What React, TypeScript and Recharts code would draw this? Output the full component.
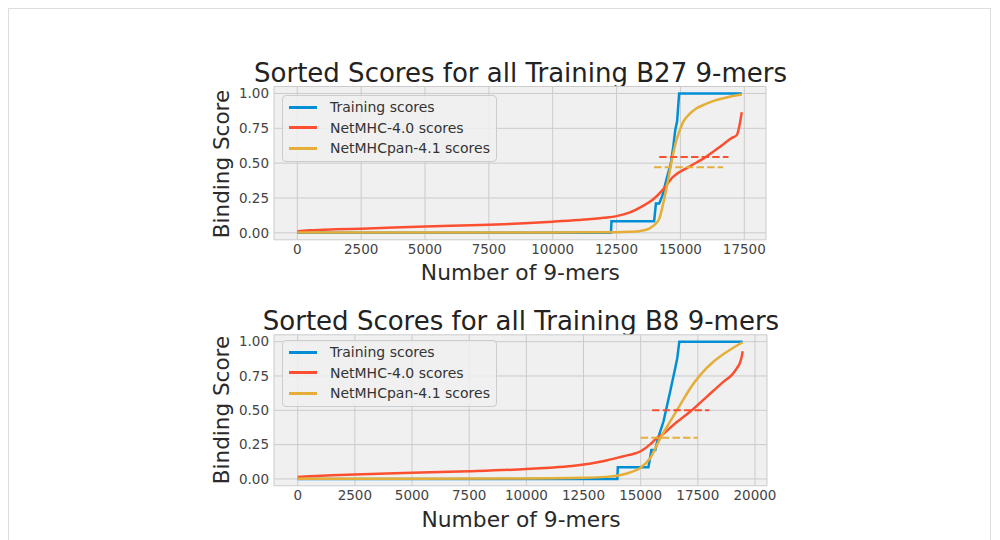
import React from 'react';
import { LineChart, Line, XAxis, YAxis, CartesianGrid, Legend } from 'recharts';

const FONT = '"DejaVu Sans", "Liberation Sans", sans-serif';

const SERIES_NAMES = ['Training scores', 'NetMHC-4.0 scores', 'NetMHCpan-4.1 scores'];
const SERIES_COLORS = ['#008fd5', '#fc4f30', '#e5ae38'];
const Y_TICKS = [0, 0.25, 0.5, 0.75, 1.0];
const B27_X_TICKS = [0, 2500, 5000, 7500, 10000, 12500, 15000, 17500];
const B8_X_TICKS = [0, 2500, 5000, 7500, 10000, 12500, 15000, 17500, 20000];

const TITLE_B27 = 'Sorted Scores for all Training B27 9-mers';
const TITLE_B8 = 'Sorted Scores for all Training B8 9-mers';
const X_LABEL = 'Number of 9-mers';
const Y_LABEL = 'Binding Score';

// ---- B27 ----
const b27TrainX = [0, 12280, 12300, 13970, 14040, 14170, 14300, 14450, 14625, 14720, 14800, 14870, 14950, 17400];
const b27TrainY = [0, 0, 0.084, 0.084, 0.21, 0.21, 0.27, 0.38, 0.5, 0.62, 0.74, 0.8, 1.0, 1.0];

const b27NetMhcX = [0, 500, 1500, 2500, 5000, 7500, 8700, 10000, 11000, 12000, 12500, 13000, 13500, 13900, 14300, 14700, 15300, 16000, 16600, 17000, 17200, 17300, 17370, 17400];
const b27NetMhcY = [0.012, 0.018, 0.025, 0.03, 0.045, 0.058, 0.067, 0.08, 0.092, 0.108, 0.12, 0.145, 0.19, 0.235, 0.306, 0.4, 0.47, 0.545, 0.625, 0.68, 0.7, 0.76, 0.83, 0.865];

const b27PanX = [0, 5000, 10000, 12500, 13000, 13400, 13780, 14040, 14170, 14300, 14490, 14690, 14820, 14950, 15120, 15340, 15600, 16000, 16300, 16640, 17000, 17400];
const b27PanY = [0.002, 0.002, 0.003, 0.004, 0.007, 0.012, 0.03, 0.067, 0.1, 0.19, 0.354, 0.545, 0.65, 0.725, 0.8, 0.85, 0.89, 0.925, 0.947, 0.964, 0.98, 0.993];

const b27NetMhcCutX = [14170, 16880];
const b27NetMhcCutY = [0.545, 0.545];
const b27PanCutX = [13970, 16670];
const b27PanCutY = [0.47, 0.47];

// ---- B8 ----
const b8TrainX = [0, 13980, 14000, 15340, 15470, 15640, 15740, 16000, 16290, 16510, 16600, 16690, 19460];
const b8TrainY = [0, 0, 0.085, 0.085, 0.21, 0.21, 0.286, 0.42, 0.637, 0.807, 0.88, 1.0, 1.0];

const b8NetMhcX = [0, 500, 1500, 2500, 5000, 7500, 10000, 11000, 12000, 12500, 13000, 13500, 14000, 14500, 14980, 15400, 15710, 16000, 16440, 17170, 17900, 18630, 19000, 19210, 19360, 19430, 19460];
const b8NetMhcY = [0.015, 0.02, 0.027, 0.033, 0.045, 0.056, 0.072, 0.082, 0.095, 0.105, 0.118, 0.135, 0.155, 0.175, 0.2, 0.25, 0.298, 0.33, 0.395, 0.491, 0.6, 0.709, 0.76, 0.807, 0.855, 0.9, 0.93];

const b8PanX = [0, 5000, 10000, 12500, 13500, 14000, 14500, 14980, 15420, 15860, 16290, 16730, 17170, 17610, 18190, 18780, 19460];
const b8PanY = [0.002, 0.002, 0.004, 0.008, 0.015, 0.025, 0.045, 0.08, 0.153, 0.298, 0.419, 0.54, 0.661, 0.758, 0.855, 0.927, 0.996];

const b8NetMhcCutX = [15500, 18000];
const b8NetMhcCutY = [0.5, 0.5];
const b8PanCutX = [15000, 17500];
const b8PanCutY = [0.3, 0.3];

const pts = (xs: number[], ys: number[]) => xs.map((x, i) => ({ x, y: ys[i] }));

const renderLegend = (props: any) => {
  const items = (props.payload || [])
    .filter((p: any) => SERIES_NAMES.includes(p.value))
    .sort((a: any, b: any) => SERIES_NAMES.indexOf(a.value) - SERIES_NAMES.indexOf(b.value));
  return (
    <div
      style={{
        width: 215,
        height: 67,
        boxSizing: 'border-box',
        background: 'rgba(240,240,240,0.85)',
        border: '1px solid #cccccc',
        borderRadius: 4,
        paddingTop: 1,
        fontFamily: FONT,
      }}
    >
      {items.map((it: any) => (
        <div key={it.value} style={{ display: 'flex', alignItems: 'center', height: 20.5 }}>
          <div style={{ marginLeft: 6, width: 28.7, height: 2.6, background: it.color }} />
          <span style={{ marginLeft: 12.6, fontSize: 14, color: '#333', lineHeight: '20.5px', whiteSpace: 'nowrap' }}>
            {it.value}
          </span>
        </div>
      ))}
    </div>
  );
};

type Pt = { x: number; y: number };
type PanelProps = {
  svgTop: number;
  marginTop: number;
  plotH: number;
  marginRight: number;
  xDomain: [number, number];
  xTicks: number[];
  title: string;
  titleTop: number;
  titleCx: number;
  xLabelTop: number;
  xLabelCx: number;
  yLabelCy: number;
  train: Pt[];
  netmhc: Pt[];
  pan: Pt[];
  netmhcCut: Pt[];
  panCut: Pt[];
};

function Panel(p: PanelProps) {
  const svgLeft = 200;
  const svgW = 580;
  const svgH = 200;
  const xAxisH = 30;
  const marginBottom = svgH - p.marginTop - p.plotH - xAxisH;
  return (
    <>
      <div
        style={{
          position: 'absolute',
          left: p.titleCx - 400 - 8,
          top: p.titleTop - 8,
          width: 800,
          textAlign: 'center',
          fontFamily: FONT,
          fontSize: 26,
          lineHeight: '26px',
          color: '#222',
          whiteSpace: 'nowrap',
        }}
      >
        {p.title}
      </div>
      <div
        style={{
          position: 'absolute',
          left: 221.5 - 100 - 8,
          top: p.yLabelCy - 11 - 8,
          width: 200,
          height: 22,
          textAlign: 'center',
          fontFamily: FONT,
          fontSize: 21.5,
          lineHeight: '22px',
          color: '#2a2a2a',
          whiteSpace: 'nowrap',
          transform: 'rotate(-90deg)',
        }}
      >
        {Y_LABEL}
      </div>
      <div
        style={{
          position: 'absolute',
          left: p.xLabelCx - 200 - 8,
          top: p.xLabelTop - 8,
          width: 400,
          textAlign: 'center',
          fontFamily: FONT,
          fontSize: 21.8,
          lineHeight: '21.8px',
          color: '#2a2a2a',
          whiteSpace: 'nowrap',
        }}
      >
        {X_LABEL}
      </div>
      <div style={{ position: 'absolute', left: svgLeft - 8, top: p.svgTop - 8 }}>
        <LineChart
          width={svgW}
          height={svgH}
          margin={{ top: p.marginTop, right: p.marginRight, bottom: marginBottom, left: 0 }}
        >
          <CartesianGrid stroke="#cbcbcb" strokeWidth={1} fill="#f0f0f0" />
          <XAxis
            dataKey="x"
            type="number"
            domain={p.xDomain}
            ticks={p.xTicks}
            allowDataOverflow
            axisLine={false}
            tickLine={false}
            tickSize={0}
            tickMargin={5}
            height={xAxisH}
            interval={0}
            tick={{ fontFamily: FONT, fontSize: 13.5, fill: '#444' }}
          />
          <YAxis
            type="number"
            domain={[-0.05, 1.05]}
            ticks={Y_TICKS}
            allowDataOverflow
            axisLine={false}
            tickLine={false}
            tickSize={0}
            tickMargin={5}
            width={74}
            interval={0}
            tickFormatter={(v: number) => v.toFixed(2)}
            tick={{ fontFamily: FONT, fontSize: 13.5, fill: '#444' }}
          />
          <Legend
            layout="vertical"
            align="center"
            verticalAlign="middle"
            content={renderLegend}
            wrapperStyle={{ left: 81.7, top: 15, width: 215, height: 67 }}
          />
          <Line data={p.train} dataKey="y" name={SERIES_NAMES[0]} stroke={SERIES_COLORS[0]} strokeWidth={2.5} dot={false} activeDot={false} type="linear" isAnimationActive={false} />
          <Line data={p.netmhc} dataKey="y" name={SERIES_NAMES[1]} stroke={SERIES_COLORS[1]} strokeWidth={2.5} dot={false} activeDot={false} type="monotone" isAnimationActive={false} />
          <Line data={p.pan} dataKey="y" name={SERIES_NAMES[2]} stroke={SERIES_COLORS[2]} strokeWidth={2.5} dot={false} activeDot={false} type="monotone" isAnimationActive={false} />
          <Line data={p.netmhcCut} dataKey="y" name="netmhc-cut" legendType="none" stroke={SERIES_COLORS[1]} strokeWidth={2} strokeDasharray="7.4 3.2" dot={false} activeDot={false} type="linear" isAnimationActive={false} />
          <Line data={p.panCut} dataKey="y" name="pan-cut" legendType="none" stroke={SERIES_COLORS[2]} strokeWidth={2} strokeDasharray="7.4 3.2" dot={false} activeDot={false} type="linear" isAnimationActive={false} />
        </LineChart>
      </div>
    </>
  );
}

export default function App() {
  return (
    <div style={{ position: 'relative', width: 984, height: 532, overflow: 'hidden', background: '#fff' }}>
      <div
        style={{
          position: 'absolute',
          left: 0,
          top: 0,
          width: 983,
          height: 600,
          boxSizing: 'border-box',
          borderLeft: '1.5px solid #dedede',
          borderTop: '1.5px solid #dedede',
          borderRight: '1.5px solid #dedede',
        }}
      />
      <Panel
        svgTop={80}
        marginTop={6.5}
        plotH={153.3}
        marginRight={14}
        xDomain={[-912, 18350]}
        xTicks={B27_X_TICKS}
        title={TITLE_B27}
        titleTop={60.3}
        titleCx={520.5}
        xLabelTop={261.6}
        xLabelCx={520.4}
        yLabelCy={163.5}
        train={pts(b27TrainX, b27TrainY)}
        netmhc={pts(b27NetMhcX, b27NetMhcY)}
        pan={pts(b27PanX, b27PanY)}
        netmhcCut={pts(b27NetMhcCutX, b27NetMhcCutY)}
        panCut={pts(b27PanCutX, b27PanCutY)}
      />
      <Panel
        svgTop={325}
        marginTop={9.8}
        plotH={151}
        marginRight={13}
        xDomain={[-1037, 20525]}
        xTicks={B8_X_TICKS}
        title={TITLE_B8}
        titleTop={307.5}
        titleCx={521}
        xLabelTop={508.6}
        xLabelCx={521}
        yLabelCy={410.3}
        train={pts(b8TrainX, b8TrainY)}
        netmhc={pts(b8NetMhcX, b8NetMhcY)}
        pan={pts(b8PanX, b8PanY)}
        netmhcCut={pts(b8NetMhcCutX, b8NetMhcCutY)}
        panCut={pts(b8PanCutX, b8PanCutY)}
      />
    </div>
  );
}
